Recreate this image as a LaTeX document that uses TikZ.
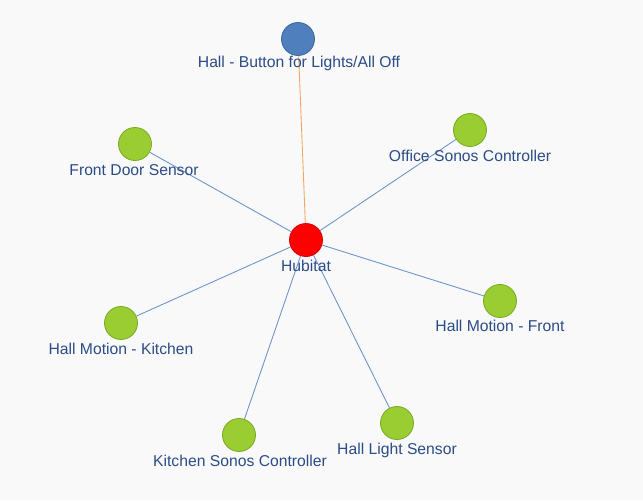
\documentclass[tikz,border=0pt]{standalone}
\usepackage{fontspec}
\setmainfont{Liberation Sans}
\definecolor{bgcol}{HTML}{F9F9F9}
\definecolor{txtcol}{HTML}{2B4C86}
\definecolor{greenfill}{HTML}{9ACD32}
\definecolor{greenline}{HTML}{7AAA22}
\definecolor{bluefill}{HTML}{4F80BD}
\definecolor{blueline}{HTML}{3C679E}
\definecolor{linkcol}{HTML}{6C95CA}
\definecolor{buttonlink}{HTML}{F2A560}

\tikzset{
  device/.style={circle, minimum size=33*0.03cm, inner sep=0pt, line width=0.7pt,
    fill=greenfill, draw=greenline},
  hubnode/.style={device, fill=red, draw=red!85!black},
  buttonnode/.style={device, fill=bluefill, draw=blueline},
  lbl/.style={text=txtcol, font=\fontsize{13.4}{16}\selectfont, inner sep=0pt},
  link/.style={linkcol, line width=0.75pt},
}

\begin{document}
\begin{tikzpicture}[x=0.03cm, y=-0.03cm]
  \fill[bgcol] (0,0) rectangle (643,500);

  % devices (centres in pixels of the reference)
  \node[hubnode]    (hub)     at (306,240) {};
  \node[buttonnode] (button)  at (298,39)  {};
  \node[device]     (front)   at (135,144) {};
  \node[device]     (office)  at (470,130) {};
  \node[device]     (motionf) at (500,301) {};
  \node[device]     (motionk) at (121,323) {};
  \node[device]     (kitchen) at (239,435) {};
  \node[device]     (light)   at (397,423) {};

  % links to the hub
  \draw[buttonlink, line width=0.75pt] (hub) -- (button);
  \foreach \n in {front, office, motionf, motionk, kitchen, light}
    \draw[link] (hub) -- (\n);

  % labels
  \node[lbl] (buttonlbl)  at (299,63)  {Hall - Button for Lights/All Off};
  \node[lbl] (hublbl)     at (306,266) {Hubitat};
  \node[lbl] (frontlbl)   at (134,170) {Front Door Sensor};
  \node[lbl] (officelbl)  at (470,156) {Office Sonos Controller};
  \node[lbl] (motionflbl) at (500,326) {Hall Motion - Front};
  \node[lbl] (motionklbl) at (121,349) {Hall Motion - Kitchen};
  \node[lbl] (kitchenlbl) at (240,461) {Kitchen Sonos Controller};
  \node[lbl] (lightlbl)   at (397,450) {Hall Light Sensor};
\end{tikzpicture}
\end{document}
